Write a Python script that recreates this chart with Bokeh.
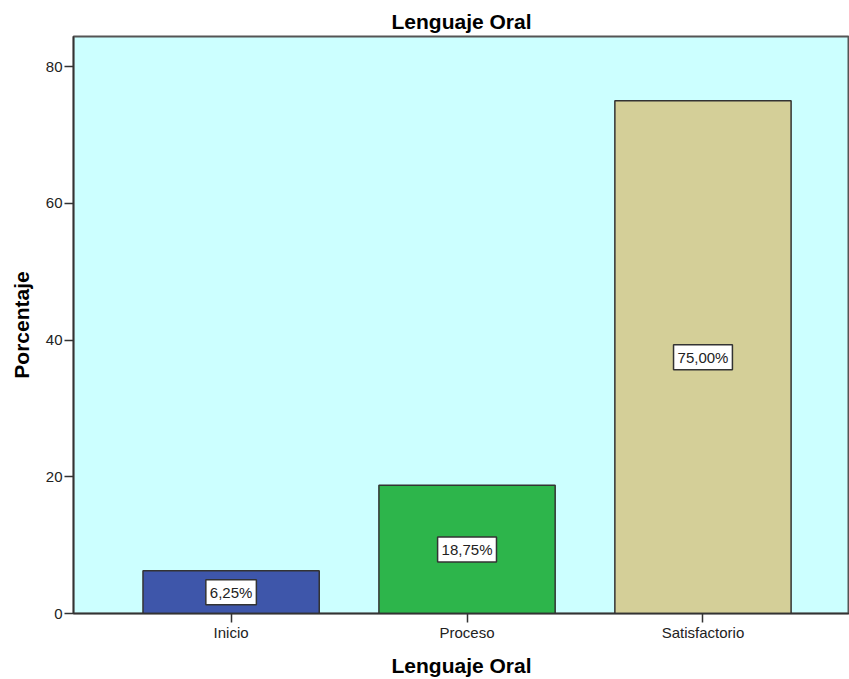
from bokeh.plotting import figure
from bokeh.models import ColumnDataSource, Label, Range1d, FixedTicker
from bokeh.embed import file_html
from bokeh.resources import INLINE

categories = ["Inicio", "Proceso", "Satisfactorio"]
percentages = [6.25, 18.75, 75.00]
bar_labels = ["6,25%", "18,75%", "75,00%"]
colors = ["#3E56AA", "#2DB54B", "#D4CF98"]
y_ticks = [0, 20, 40, 60, 80]

xs = list(range(1, len(categories) + 1))
src = ColumnDataSource(dict(
    x=xs, top=percentages, color=colors))

p = figure(width=849, height=679, output_backend="svg", toolbar_location=None,
           x_range=Range1d(0.332, 3.621), y_range=Range1d(0, 84.4),
           min_border_left=73, min_border_right=0, min_border_top=36,
           min_border_bottom=66)
p.title.text = "Lenguaje Oral"
p.title.align = "center"
p.title.text_font = "Liberation Sans"
p.title.text_font_size = "21px"
p.title.text_font_style = "bold"
p.title.text_color = "#000000"
p.title.standoff = 8

p.background_fill_color = "#CCFFFF"
p.border_fill_color = "white"
p.outline_line_color = "#555555"
p.outline_line_width = 2
p.grid.visible = False

p.vbar(x="x", top="top", width=0.747, fill_color="color",
       line_color="#333333", line_width=1.5, source=src)

for xv, v, t in zip(xs, percentages, bar_labels):
    p.add_layout(Label(x=xv, y=v / 2, text=t,
                       text_align="center", text_baseline="middle",
                       text_font="Liberation Sans", text_font_size="15px",
                       text_color="#222222",
                       background_fill_color="white", border_line_color="#333333",
                       border_line_width=1.5, padding=(4, 4)))

p.xaxis.ticker = FixedTicker(ticks=xs)
p.xaxis.major_label_overrides = {i: c for i, c in zip(xs, categories)}
p.yaxis.ticker = FixedTicker(ticks=y_ticks)

for ax in (p.xaxis[0], p.yaxis[0]):
    ax.major_label_text_font = "Liberation Sans"
    ax.major_label_text_font_size = "15px"
    ax.major_label_text_color = "#222222"
    ax.axis_label_text_font = "Liberation Sans"
    ax.axis_label_text_font_size = "21px"
    ax.axis_label_text_font_style = "bold"
    ax.axis_label_text_color = "#000000"
    ax.axis_line_color = "#333333"
    ax.axis_line_width = 1.5
    ax.major_tick_line_color = "#333333"
    ax.major_tick_line_width = 1.5
    ax.major_tick_in = 0
    ax.major_tick_out = 9
    ax.minor_tick_line_color = None

p.xaxis.axis_label = "Lenguaje Oral"
p.yaxis.axis_label = "Porcentaje"
p.xaxis.axis_label_standoff = 10
p.yaxis.axis_label_standoff = 10
p.xaxis.major_label_standoff = 1
p.yaxis.major_label_standoff = 2

open("out.html", "w").write(file_html(p, INLINE))
